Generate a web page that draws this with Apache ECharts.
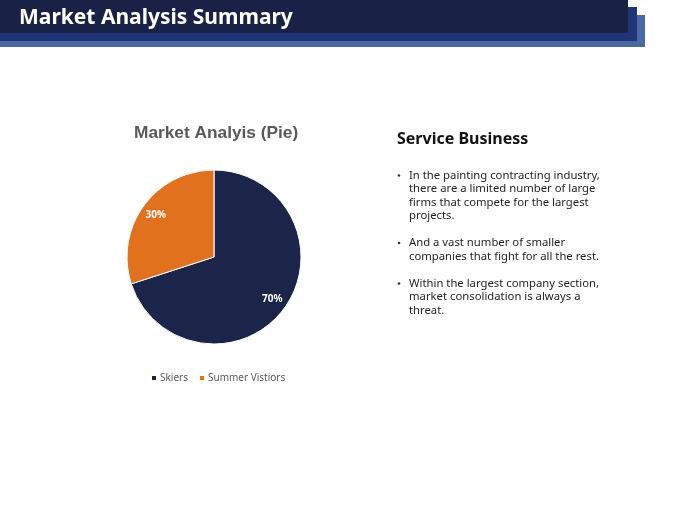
<!DOCTYPE html>
<html>
<head>
<meta charset="utf-8">
<script src="https://cdn.jsdelivr.net/npm/echarts@6/dist/echarts.min.js"></script>
<style>
  html, body { margin: 0; padding: 0; background: #ffffff; }
  #grafico { width: 680px; height: 510px; }
</style>
</head>
<body>
<div id="grafico"></div>
<script>
// datos del grafico
const categorias = ['Skiers', 'Summer Vistiors'];
const valores = [70, 30];
const colores = ['#1b2449', '#e2711d'];

const titulo = 'Market Analysis Summary';
const tituloPie = 'Market Analyis (Pie)';
const tituloTexto = 'Service Business';
const vinetas = [
    ['In the painting contracting industry,', 'there are a limited number of large', 'firms that compete for the largest', 'projects.'],
    ['And a vast number of smaller', 'companies that fight for all the rest.'],
    ['Within the largest company section,', 'market consolidation is always a', 'threat.']
];

const fuente = '"Noto Sans", "Open Sans", sans-serif';

const crearTexto = () => {
    let elementos = [];
    let y = 169;
    vinetas.forEach((lineas) => {
        elementos.push({
            type: 'circle', shape: { cx: 399, cy: y + 6.5, r: 1.3 },
            style: { fill: '#333333' }
        });
        elementos.push({
            type: 'text', left: 409, top: y,
            style: { text: lineas.join('\n'), font: '11.3px ' + fuente, lineHeight: 13.5, fill: '#1f1f1f' }
        });
        y += lineas.length * 13.5 + 13.5;
    });
    return elementos;
};

const datosPie = (transparente) => categorias.map((nombre, i) => ({
    name: nombre,
    value: valores[i],
    itemStyle: transparente ? { color: 'rgba(0,0,0,0)' } : { color: colores[i] }
}));

const chart = echarts.init(document.getElementById('grafico'));

const opciones = {
    animation: false,
    title: {
        text: tituloPie,
        left: 129,
        top: 120,
        textStyle: { fontFamily: 'Arial, "Liberation Sans", sans-serif', fontSize: 17.3, fontWeight: 'bold', color: '#595959' }
    },
    legend: {
        data: categorias,
        left: 150,
        top: 373,
        itemWidth: 6,
        itemHeight: 6,
        itemGap: 10,
        icon: 'rect',
        textStyle: { fontFamily: fuente, fontSize: 10, color: '#595959', padding: [0, 0, 0, -2] },
        padding: 0
    },
    series: [{
        type: 'pie',
        center: [214, 257],
        radius: 87,
        startAngle: 90,
        clockwise: true,
        itemStyle: { borderColor: '#ffffff', borderWidth: 1 },
        label: { show: false },
        labelLine: { show: false },
        data: datosPie(false)
    }, {
        // serie solo para colocar etiquetas hacia el borde
        type: 'pie',
        center: [214, 257],
        radius: [51, 87],
        startAngle: 90,
        clockwise: true,
        silent: true,
        legendHoverLink: false,
        label: {
            show: true,
            position: 'inside',
            formatter: '{d}%',
            color: '#ffffff',
            fontFamily: fuente,
            fontSize: 10,
            fontWeight: 'bold'
        },
        labelLine: { show: false },
        data: datosPie(true)
    }],
    graphic: [
        { type: 'rect', shape: { x: 0, y: 15, width: 645, height: 32 }, style: { fill: '#4a69a3' } },
        { type: 'rect', shape: { x: 0, y: 7, width: 637, height: 34 }, style: { fill: '#1f3577' } },
        { type: 'rect', shape: { x: 0, y: 0, width: 628, height: 33 }, style: { fill: '#1a2147' } },
        {
            type: 'text', left: 19, top: 8,
            style: { text: titulo, font: 'bold 21px ' + fuente, fill: '#ffffff' }
        },
        {
            type: 'text', left: 397, top: 131,
            style: { text: tituloTexto, font: 'bold 16px ' + fuente, fill: '#111111' }
        }
    ].concat(crearTexto())
};

chart.setOption(opciones);
</script>
</body>
</html>
